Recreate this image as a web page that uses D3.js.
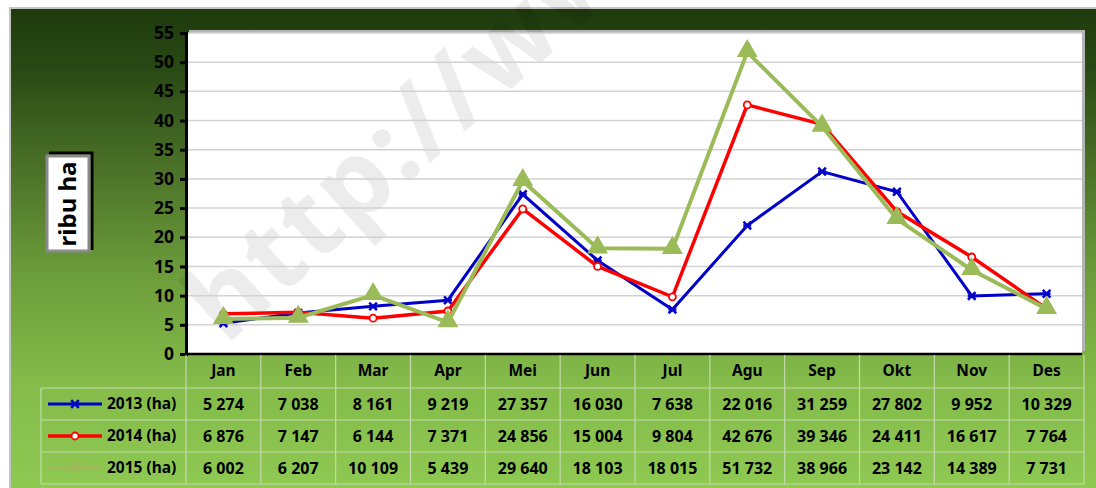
<!DOCTYPE html>
<html>
<head>
<meta charset="utf-8">
<script src="https://cdn.jsdelivr.net/npm/d3@7"></script>
<style>
  body { margin: 0; background: #fff; }
  text { font-family: "Noto Sans", "DejaVu Sans", sans-serif; font-weight: bold; }
</style>
</head>
<body>
<div id="svg"></div>
<script>
// data (ha)
const months = ["Jan","Feb","Mar","Apr","Mei","Jun","Jul","Agu","Sep","Okt","Nov","Des"];
const seriesNames = ["2013 (ha)","2014 (ha)","2015 (ha)"];
const v2013 = [5274, 7038, 8161, 9219, 27357, 16030, 7638, 22016, 31259, 27802, 9952, 10329];
const v2014 = [6876, 7147, 6144, 7371, 24856, 15004, 9804, 42676, 39346, 24411, 16617, 7764];
const v2015 = [6002, 6207, 10109, 5439, 29640, 18103, 18015, 51732, 38966, 23142, 14389, 7731];
const yTicks = [0,5,10,15,20,25,30,35,40,45,50,55];

let w = 1096, h = 488;
let pLeft = 186, pRight = 1084, pTop = 33, pBottom = 354;

let svg = d3.select("#svg")
    .append("svg")
    .attr("width", w)
    .attr("height", h);

// green gradient background
let defs = svg.append("defs");
let grad = defs.append("linearGradient").attr("id", "bg")
    .attr("x1", 0).attr("y1", 0).attr("x2", 0).attr("y2", 1);
[[0, "#1f3a0c"], [0.12, "#284914"], [0.3, "#466b25"], [0.55, "#6b9c3a"], [0.78, "#84bb4a"], [1, "#8ec952"]]
    .forEach(s => grad.append("stop").attr("offset", s[0]).attr("stop-color", s[1]));

svg.append("rect").attr("x", 9).attr("y", 7).attr("width", w - 9).attr("height", h - 7).attr("fill", "#c4c4c4");
svg.append("rect").attr("x", 11).attr("y", 9).attr("width", w - 11).attr("height", h - 9).attr("fill", "url(#bg)");

// plot area with shadow
svg.append("rect").attr("x", pLeft + 3).attr("y", pTop - 3).attr("width", pRight - 2 - pLeft).attr("height", pBottom - pTop)
    .attr("fill", "#b4b4b4");
svg.append("rect").attr("x", pLeft).attr("y", pTop).attr("width", pRight - 2 - pLeft).attr("height", pBottom - pTop)
    .attr("fill", "#fff");

let x = d3.scaleBand().domain(months).range([pLeft, pRight]);
let y = d3.scaleLinear().domain([0, 55]).range([pBottom, pTop]);

// watermark
svg.append("text")
    .attr("transform", "translate(226,346) rotate(-42)")
    .attr("font-size", 106)
    .attr("letter-spacing", 3)
    .attr("fill", "#000")
    .attr("fill-opacity", 0.075)
    .text("http://www");

// gridlines
svg.append("g").selectAll("line")
    .data(yTicks.slice(1))
    .enter().append("line")
    .attr("x1", pLeft).attr("x2", pRight - 2)
    .attr("y1", d => y(d)).attr("y2", d => y(d))
    .attr("stroke", "#d2d2d2").attr("stroke-width", 1.5);

// y axis
let yAxis = svg.append("g")
    .attr("transform", "translate(" + pLeft + ",0)")
    .call(d3.axisLeft(y).tickValues(yTicks).tickSize(6).tickPadding(6));
yAxis.select(".domain").attr("stroke", "#000").attr("stroke-width", 3);
yAxis.selectAll(".tick line").attr("stroke", "#000").attr("stroke-width", 3);
yAxis.selectAll(".tick text").attr("font-size", 17.5).attr("fill", "#000");

// x axis line
svg.append("line").attr("x1", pLeft).attr("x2", pRight - 2).attr("y1", pBottom).attr("y2", pBottom)
    .attr("stroke", "#000").attr("stroke-width", 2.5);

// y label box
svg.append("path").attr("d", "M49,153 H92 V250").attr("fill", "none").attr("stroke", "#000").attr("stroke-width", 3);
svg.append("rect").attr("x", 47).attr("y", 156).attr("width", 42).attr("height", 95)
    .attr("fill", "#fff").attr("stroke", "#8a8a8a").attr("stroke-width", 3);
svg.append("text")
    .attr("transform", "translate(76,204) rotate(-90)")
    .attr("text-anchor", "middle")
    .attr("font-size", 24)
    .attr("fill", "#000")
    .text("ribu ha");

// series
const series = [
    {name: seriesNames[0], values: v2013, color: "#0000c8", width: 3, marker: "star"},
    {name: seriesNames[1], values: v2014, color: "#ff0000", width: 3.5, marker: "circle"},
    {name: seriesNames[2], values: v2015, color: "#9bbb59", width: 4, marker: "triangle"}
];

let line = d3.line()
    .x((d, i) => x(months[i]) + x.bandwidth() / 2)
    .y(d => y(d / 1000));

function drawMarker(g, s, cx, cy, scale) {
    if (s.marker == "star") {
        g.append("path")
            .attr("d", d3.symbol().type(d3.symbolX).size(40)())
            .attr("transform", "translate(" + cx + "," + cy + ")")
            .attr("stroke", s.color).attr("stroke-width", 2.5).attr("fill", "none");
        g.append("line").attr("x1", cx - 4).attr("x2", cx + 4).attr("y1", cy).attr("y2", cy)
            .attr("stroke", s.color).attr("stroke-width", 2.5);
    } else if (s.marker == "circle") {
        g.append("circle").attr("cx", cx).attr("cy", cy).attr("r", 3.5)
            .attr("fill", "#fff").attr("stroke", s.color).attr("stroke-width", 1.8);
    } else {
        g.append("path")
            .attr("d", d3.symbol().type(d3.symbolTriangle).size(190 * scale)())
            .attr("transform", "translate(" + cx + "," + (cy - 1) + ")")
            .attr("fill", s.color);
    }
}

series.forEach(s => {
    let g = svg.append("g");
    g.append("path")
        .attr("d", line(s.values))
        .attr("fill", "none")
        .attr("stroke", s.color)
        .attr("stroke-width", s.width)
        .attr("stroke-linejoin", "miter");
    s.values.forEach((d, i) => {
        drawMarker(g, s, x(months[i]) + x.bandwidth() / 2, y(d / 1000), 1);
    });
});

// data table
let rowTop = [354, 388, 420, 452, 484];
let grid = svg.append("g").attr("stroke", "#c5d9ad").attr("stroke-width", 1.2);
months.concat(["end"]).forEach((m, i) => {
    let xx = pLeft + i * x.bandwidth();
    grid.append("line").attr("x1", xx).attr("x2", xx).attr("y1", pBottom + 1).attr("y2", 484);
});
grid.append("line").attr("x1", 41).attr("x2", 41).attr("y1", 388).attr("y2", 484);
rowTop.slice(1).forEach(r => {
    grid.append("line").attr("x1", 41).attr("x2", pRight).attr("y1", r).attr("y2", r);
});

// header
svg.append("g").selectAll("text")
    .data(months)
    .enter().append("text")
    .attr("x", d => x(d) + x.bandwidth() / 2)
    .attr("y", 371)
    .attr("dy", "0.35em")
    .attr("text-anchor", "middle")
    .attr("font-size", 15.5)
    .attr("fill", "#000")
    .text(d => d);

let fmt = v => d3.format(",")(v).replace(/,/g, " ");

series.forEach((s, k) => {
    let cy = (rowTop[k + 1] + rowTop[k + 2]) / 2;
    let g = svg.append("g");
    g.append("line").attr("x1", 48).attr("x2", 102).attr("y1", cy).attr("y2", cy)
        .attr("stroke", s.color).attr("stroke-width", s.width);
    drawMarker(g, s, 75, cy, 0.6);
    g.append("text")
        .attr("x", 107).attr("y", cy).attr("dy", "0.35em")
        .attr("font-size", 15.5).attr("fill", "#000")
        .text(s.name);
    g.selectAll(".val")
        .data(s.values)
        .enter().append("text")
        .attr("x", (d, i) => x(months[i]) + x.bandwidth() / 2)
        .attr("y", cy).attr("dy", "0.35em")
        .attr("text-anchor", "middle")
        .attr("font-size", 16).attr("fill", "#000")
        .text(d => fmt(d));
});
</script>
</body>
</html>
